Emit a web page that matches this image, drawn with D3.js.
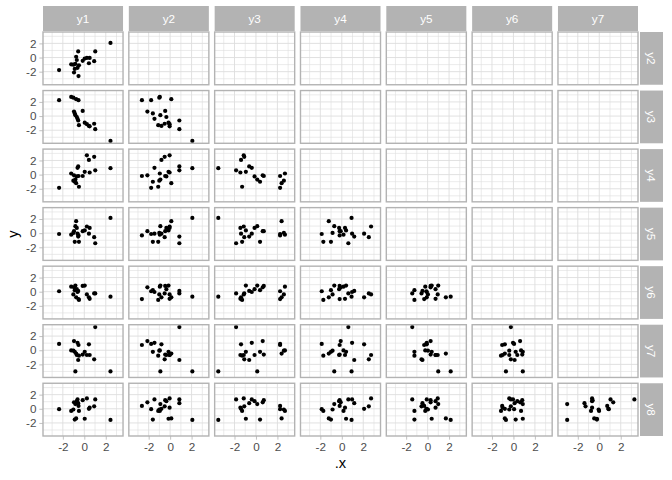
<!DOCTYPE html>
<html>
<head>
<meta charset="utf-8">
<script src="https://cdn.jsdelivr.net/npm/d3@7"></script>
<style>
  html, body { margin: 0; padding: 0; background: #ffffff; }
  svg { display: block; }
  text { font-family: "Liberation Sans", Arial, sans-serif; }
</style>
</head>
<body>
<svg id="chart" width="672" height="480"></svg>
<script>
// ---- data: one array per variable (same 20 observations) ----
const y1 = [-2.35, -1.22, -1.02, -0.96, -0.89, -0.83, -0.76, -0.70, -0.63, -0.57, -0.54, -0.50, -0.15, 0.04, 0.24, 0.43, 0.50, 0.92, 1.02, 2.44];
const y2 = [-1.77, -0.96, -1.01, -2.12, -1.61, -0.91, 0.11, -0.35, -1.46, 0.86, -2.63, -1.11, -0.46, -0.15, -0.05, -0.81, -0.05, -0.51, 0.86, 2.07];
const y3 = [2.25, 2.70, 2.60, 0.63, 0.38, 0.12, 2.39, -0.13, -0.39, -0.63, 2.25, -1.29, 0.73, -0.94, -1.14, -1.39, -1.45, -1.09, -1.85, -3.51];
const y4 = [-1.87, 0.16, -0.86, -0.10, -1.01, -0.70, -1.21, -0.25, 0.96, 1.16, -0.20, -1.72, -0.20, 0.40, 2.73, 2.08, 0.30, 2.52, 0.61, 0.91];
const y5 = [-0.12, -0.22, 0.03, 0.28, -1.23, 0.99, 1.70, 0.74, -0.08, -0.48, -0.32, -1.23, 0.28, 0.38, 0.94, -0.08, 0.74, -0.57, -1.43, 2.15];
const y6 = [0.06, 0.71, -0.39, 0.62, 0.21, 0.87, -0.80, 0.36, -0.04, 0.11, -1.05, -1.16, 0.82, 0.87, -0.39, -0.80, -1.01, -0.24, -0.24, -0.70];
const y7 = [0.89, -0.02, -0.06, 1.30, -0.22, -2.99, -0.47, -0.67, 1.05, -1.38, 0.74, -0.77, -0.62, -0.22, -0.67, 0.84, -0.67, -1.28, 3.27, -2.99];
const y8 = [-0.05, -0.30, -0.10, 0.91, -1.52, 0.66, -1.36, 1.08, 1.32, 0.79, 0.40, -0.30, 1.21, -1.41, 1.47, 0.00, 0.16, 0.35, 1.32, -1.57];

const colNames = ["y1", "y2", "y3", "y4", "y5", "y6", "y7"];
const rowNames = ["y2", "y3", "y4", "y5", "y6", "y7", "y8"];
const tickValues = [-2, 0, 2];
const minorValues = [-3, -1, 1, 3];
const xTitle = ".x";
const yTitle = "y";

(function () {
  const vars = { y1, y2, y3, y4, y5, y6, y7, y8 };

  const svg = d3.select("#chart");
  const W = 672, H = 480;
  const pL = 43, pR = 638, pT = 32, pB = 436;
  const gap = 5.8;
  const stripSize = 25, stripGap = 1;
  const nC = colNames.length, nR = rowNames.length;
  const pw = (pR - pL - (nC - 1) * gap) / nC;
  const ph = (pB - pT - (nR - 1) * gap) / nR;

  const GRID = "#DEDEDE", BORDER = "#B3B3B3", STRIP = "#B3B3B3", AXTXT = "#4D4D4D";

  function expandRange(arr) {
    const lo = d3.min(arr), hi = d3.max(arr);
    const r = hi - lo;
    return [lo - 0.05 * r, hi + 0.05 * r];
  }
  const xAll = colNames.flatMap(n => vars[n]);
  const yAll = rowNames.flatMap(n => vars[n]);
  const x = d3.scaleLinear().domain(expandRange(xAll)).range([0, pw]);
  const y = d3.scaleLinear().domain(expandRange(yAll)).range([ph, 0]);
  const fmt = d => d < 0 ? "-" + Math.abs(d) : String(d);

  svg.append("rect").attr("width", W).attr("height", H).attr("fill", "#ffffff");

  rowNames.forEach((rn, r) => {
    colNames.forEach((cn, c) => {
      const px = pL + c * (pw + gap);
      const py = pT + r * (ph + gap);
      const g = svg.append("g").attr("transform", `translate(${px},${py})`);
      g.append("rect").attr("width", pw).attr("height", ph).attr("fill", "#ffffff");
      g.selectAll(".vmin").data(minorValues).join("line")
        .attr("x1", d => x(d)).attr("x2", d => x(d)).attr("y1", 0).attr("y2", ph)
        .attr("stroke", GRID).attr("stroke-width", 0.6);
      g.selectAll(".hmin").data(minorValues).join("line")
        .attr("y1", d => y(d)).attr("y2", d => y(d)).attr("x1", 0).attr("x2", pw)
        .attr("stroke", GRID).attr("stroke-width", 0.6);
      g.selectAll(".vmaj").data(tickValues).join("line")
        .attr("x1", d => x(d)).attr("x2", d => x(d)).attr("y1", 0).attr("y2", ph)
        .attr("stroke", GRID).attr("stroke-width", 0.9);
      g.selectAll(".hmaj").data(tickValues).join("line")
        .attr("y1", d => y(d)).attr("y2", d => y(d)).attr("x1", 0).attr("x2", pw)
        .attr("stroke", GRID).attr("stroke-width", 0.9);
      if (c <= r) {
        const xs = vars[cn], ys = vars[rn];
        const pts = xs.map((v, i) => [v, ys[i]]);
        g.selectAll("circle").data(pts).join("circle")
          .attr("cx", d => x(d[0])).attr("cy", d => y(d[1]))
          .attr("r", 2.1).attr("fill", "#000000");
      }
      g.append("rect").attr("width", pw).attr("height", ph)
        .attr("fill", "none").attr("stroke", BORDER).attr("stroke-width", 1.4);

      if (c === 0) {
        const ax = g.append("g").call(d3.axisLeft(y).tickValues(tickValues)
          .tickSize(3.67).tickPadding(2.9).tickFormat(fmt));
        ax.select(".domain").remove();
        ax.selectAll(".tick line").attr("stroke", BORDER).attr("stroke-width", 0.8);
        ax.selectAll(".tick text").attr("fill", AXTXT).attr("font-size", "11.7px")
          .attr("font-family", "Liberation Sans, Arial, sans-serif");
      }
      if (r === nR - 1) {
        const ax = g.append("g").attr("transform", `translate(0,${ph})`)
          .call(d3.axisBottom(x).tickValues(tickValues).tickSize(3.67).tickPadding(2.9).tickFormat(fmt));
        ax.select(".domain").remove();
        ax.selectAll(".tick line").attr("stroke", BORDER).attr("stroke-width", 0.8);
        ax.selectAll(".tick text").attr("fill", AXTXT).attr("font-size", "11.7px")
          .attr("font-family", "Liberation Sans, Arial, sans-serif");
      }
    });
  });

  colNames.forEach((cn, c) => {
    const px = pL + c * (pw + gap);
    const sy = pT - stripGap - stripSize;
    svg.append("rect").attr("x", px).attr("y", sy).attr("width", pw).attr("height", stripSize)
      .attr("fill", STRIP);
    svg.append("text").attr("x", px + pw / 2).attr("y", sy + stripSize / 2)
      .attr("text-anchor", "middle").attr("dominant-baseline", "central")
      .attr("fill", "#ffffff").attr("font-size", "11.7px").text(cn);
  });
  rowNames.forEach((rn, r) => {
    const py = pT + r * (ph + gap);
    const sx = pR + stripGap + 1;
    svg.append("rect").attr("x", sx).attr("y", py).attr("width", stripSize - 2).attr("height", ph)
      .attr("fill", STRIP);
    svg.append("text")
      .attr("transform", `translate(${sx + (stripSize - 2) / 2},${py + ph / 2}) rotate(90)`)
      .attr("text-anchor", "middle").attr("dominant-baseline", "central")
      .attr("fill", "#ffffff").attr("font-size", "11.7px").text(rn);
  });

  svg.append("text").attr("x", (pL + pR) / 2).attr("y", 468)
    .attr("text-anchor", "middle").attr("fill", "#000000").attr("font-size", "14.7px").text(xTitle);
  svg.append("text").attr("transform", `translate(18,${(pT + pB) / 2}) rotate(-90)`)
    .attr("text-anchor", "middle").attr("fill", "#000000").attr("font-size", "14.7px").text(yTitle);
})();
</script>
</body>
</html>
